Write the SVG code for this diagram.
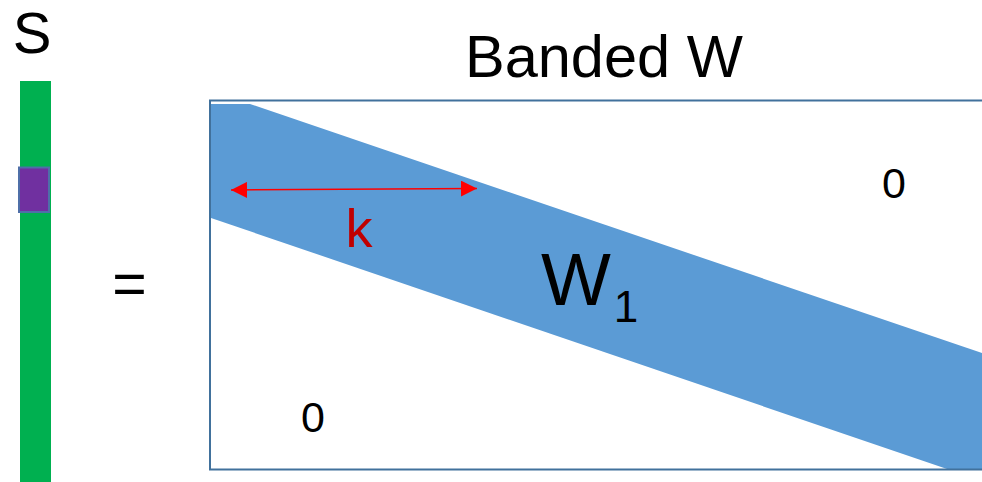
<svg xmlns="http://www.w3.org/2000/svg" width="982" height="482" viewBox="0 0 982 482">
  <style>
    .lbl { font-family: "Liberation Sans", Arial, Helvetica, sans-serif; fill: #000; }
    .frame { fill: none; stroke: #41719C; stroke-width: 2; }
    .band { fill: #5B9BD5; }
  </style>
  <defs>
    <marker id="arrowHead" viewBox="0 0 16 16" refX="16" refY="8" markerWidth="16" markerHeight="16" markerUnits="userSpaceOnUse" orient="auto-start-reverse">
      <path d="M0,0 L16,8 L0,16 Z" fill="#FF0000"/>
    </marker>
  </defs>
  <rect width="982" height="482" fill="#FFFFFF"/>

  <!-- vector S -->
  <g id="vector-s">
    <text class="lbl" x="32" y="53" font-size="58" text-anchor="middle">S</text>
    <rect x="20" y="81" width="31" height="401" fill="#00B050"/>
    <rect x="19" y="167.5" width="30" height="44.5" fill="#7030A0" stroke="#4F6FA8" stroke-width="2"/>
  </g>

  <!-- equals sign -->
  <g id="equals">
    <text class="lbl" x="129.5" y="304" font-size="59" text-anchor="middle">=</text>
  </g>

  <!-- banded matrix W -->
  <g id="banded-w">
    <text class="lbl" x="465" y="76.5" font-size="59.5">Banded W</text>
    <polygon class="band" points="211,104 250,104 982,353 982,470 950,470 211,218"/>
    <rect class="frame" x="210" y="100.5" width="790" height="369"/>
    <text class="lbl" x="894" y="198" font-size="43" text-anchor="middle">0</text>
    <text class="lbl" x="313" y="432" font-size="43" text-anchor="middle">0</text>
    <text class="lbl" x="541" y="305" font-size="74">W<tspan font-size="44" dx="3" dy="17">1</tspan></text>
  </g>

  <!-- band width k -->
  <g id="connectors">
    <line x1="231" y1="190" x2="477" y2="188.5" stroke="#FF0000" stroke-width="1.5" marker-start="url(#arrowHead)" marker-end="url(#arrowHead)"/>
  </g>
  <g id="label-k">
    <text x="359" y="247" font-size="54" text-anchor="middle" font-family="Liberation Sans, Arial, sans-serif" fill="#C00000">k</text>
  </g>
</svg>
